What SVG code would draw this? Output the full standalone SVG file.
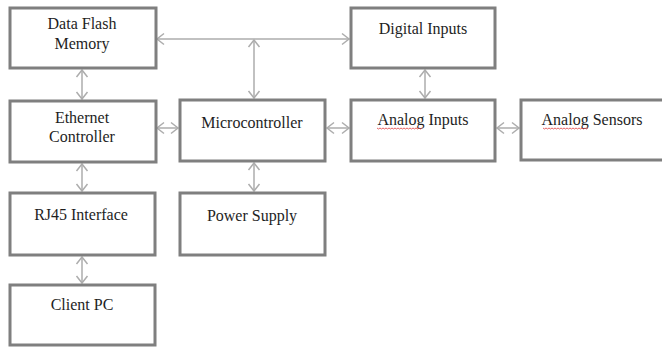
<svg xmlns="http://www.w3.org/2000/svg" width="662" height="347" viewBox="0 0 662 347">
<defs>
<style>
.box{fill:#fff;stroke:#7f7f7f;stroke-width:3}
.con{stroke:#adadad;stroke-width:1.5;fill:none;marker-start:url(#ah);marker-end:url(#ah)}
.sq{stroke:#e03c3c;stroke-width:0.8;fill:none}
</style>
<marker id="ah" markerUnits="userSpaceOnUse" markerWidth="12" markerHeight="14" refX="9" refY="6" viewBox="0 0 12 12" orient="auto-start-reverse">
<path d="M2,0.5 L9,6 L2,11.5" fill="none" stroke="#adadad" stroke-width="1.5"/>
</marker>
</defs>
<rect width="662" height="347" fill="#fff"/>
<g id="connectors">
<line class="con" x1="157" y1="39" x2="349" y2="39"/>
<line class="con" x1="254" y1="40" x2="254" y2="98"/>
<line class="con" x1="82" y1="70" x2="82" y2="99"/>
<line class="con" x1="82" y1="164" x2="82" y2="191"/>
<line class="con" x1="82" y1="257" x2="82" y2="283"/>
<line class="con" x1="157" y1="128" x2="178" y2="128"/>
<line class="con" x1="327" y1="128" x2="349" y2="128"/>
<line class="con" x1="497" y1="128" x2="519" y2="128"/>
<line class="con" x1="425" y1="70" x2="425" y2="98"/>
<line class="con" x1="254" y1="163" x2="254" y2="191"/>
</g>
<g id="data-flash">
<rect class="box" x="10" y="8" width="146" height="60"/>
<text x="82" y="29" style="font-family:'Liberation Serif',serif;font-size:16px;fill:#1e1e1e;text-anchor:middle">Data Flash</text>
<text x="82" y="49" style="font-family:'Liberation Serif',serif;font-size:16px;fill:#1e1e1e;text-anchor:middle">Memory</text>
</g>
<g id="ethernet">
<rect class="box" x="10" y="101" width="146" height="61"/>
<text x="82" y="123" style="font-family:'Liberation Serif',serif;font-size:16px;fill:#1e1e1e;text-anchor:middle">Ethernet</text>
<text x="82" y="142" style="font-family:'Liberation Serif',serif;font-size:16px;fill:#1e1e1e;text-anchor:middle">Controller</text>
</g>
<g id="micro">
<rect class="box" x="180" y="100" width="145" height="61"/>
<text x="252" y="128" style="font-family:'Liberation Serif',serif;font-size:16px;fill:#1e1e1e;text-anchor:middle">Microcontroller</text>
</g>
<g id="digital">
<rect class="box" x="351" y="8" width="144" height="60"/>
<text x="423" y="34" style="font-family:'Liberation Serif',serif;font-size:16px;fill:#1e1e1e;text-anchor:middle">Digital Inputs</text>
</g>
<g id="analog-inputs">
<rect class="box" x="351" y="100" width="144" height="61"/>
<text x="423" y="125" style="font-family:'Liberation Serif',serif;font-size:16px;fill:#1e1e1e;text-anchor:middle">Analog Inputs</text>
<path class="sq" d="M377,128 l1.5,1 l1.5,-1 l1.5,1 l1.5,-1 l1.5,1 l1.5,-1 l1.5,1 l1.5,-1 l1.5,1 l1.5,-1 l1.5,1 l1.5,-1 l1.5,1 l1.5,-1 l1.5,1 l1.5,-1 l1.5,1 l1.5,-1 l1.5,1 l1.5,-1 l1.5,1 l1.5,-1 l1.5,1 l1.5,-1 l1.5,1 l1.5,-1 l1.5,1 l1.5,-1 l1.5,1 l1.5,-1"/>
</g>
<g id="analog-sensors">
<rect class="box" x="521" y="100" width="150" height="60"/>
<text x="592" y="125" style="font-family:'Liberation Serif',serif;font-size:16px;fill:#1e1e1e;text-anchor:middle">Analog Sensors</text>
<path class="sq" d="M543,128 l1.5,1 l1.5,-1 l1.5,1 l1.5,-1 l1.5,1 l1.5,-1 l1.5,1 l1.5,-1 l1.5,1 l1.5,-1 l1.5,1 l1.5,-1 l1.5,1 l1.5,-1 l1.5,1 l1.5,-1 l1.5,1 l1.5,-1 l1.5,1 l1.5,-1 l1.5,1 l1.5,-1 l1.5,1 l1.5,-1 l1.5,1 l1.5,-1 l1.5,1 l1.5,-1 l1.5,1 l1.5,-1"/>
</g>
<g id="rj45">
<rect class="box" x="10" y="193" width="145" height="62"/>
<text x="81" y="220" style="font-family:'Liberation Serif',serif;font-size:16px;fill:#1e1e1e;text-anchor:middle">RJ45 Interface</text>
</g>
<g id="power">
<rect class="box" x="180" y="193" width="145" height="62"/>
<text x="252" y="221" style="font-family:'Liberation Serif',serif;font-size:16px;fill:#1e1e1e;text-anchor:middle">Power Supply</text>
</g>
<g id="client">
<rect class="box" x="10" y="285" width="145" height="60"/>
<text x="82" y="310" style="font-family:'Liberation Serif',serif;font-size:16px;fill:#1e1e1e;text-anchor:middle">Client PC</text>
</g>
</svg>
